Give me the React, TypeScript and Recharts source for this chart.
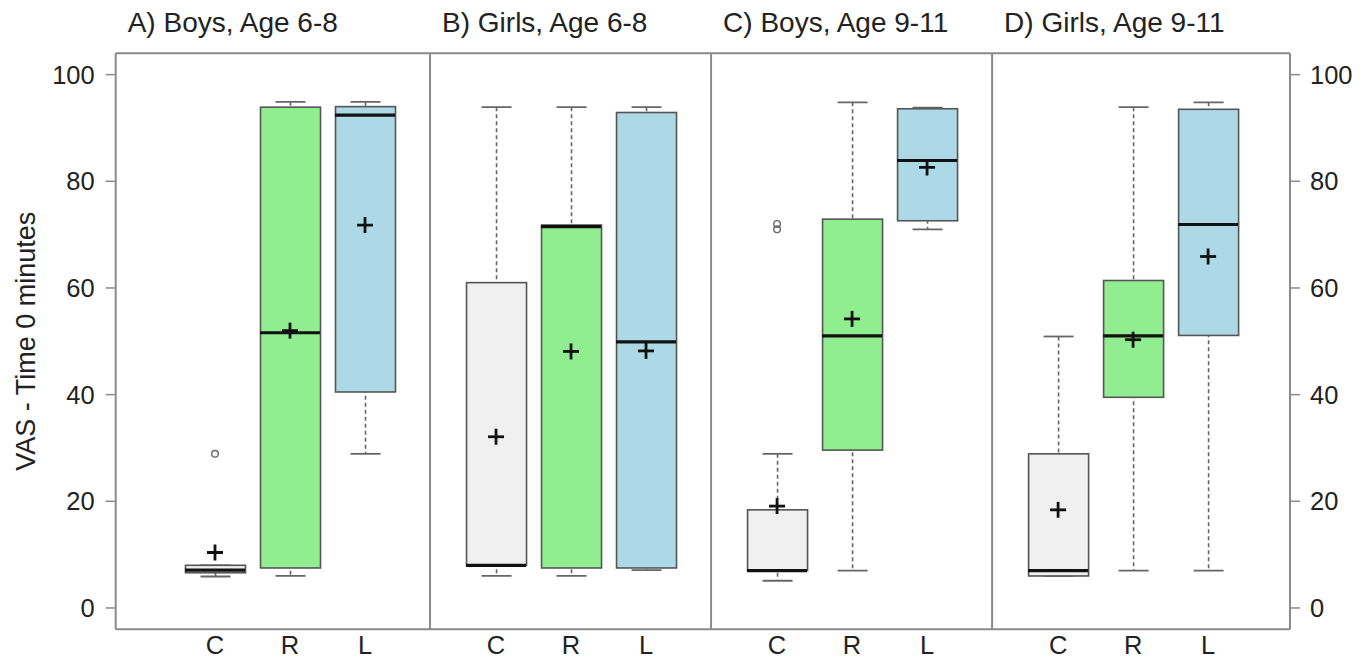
import React from "react";
import { ComposedChart, XAxis, YAxis, Bar, Cell, Scatter, ReferenceLine } from "recharts";

// ---------- data ----------
const panelTitles = ["A) Boys, Age 6-8", "B) Girls, Age 6-8", "C) Boys, Age 9-11", "D) Girls, Age 9-11"];
const groups = ["C", "R", "L"];
const groupFills = ["#f0f0f0", "#90ee90", "#add8e6"];

// order: panel A (C,R,L), B (C,R,L), C (C,R,L), D (C,R,L)
const whiskerLow = [5.9, 6.0, 28.9, 6.0, 6.0, 7.1, 5.1, 7.0, 71.0, 6.0, 7.0, 7.0];
const lowerQuartile = [6.6, 7.5, 40.5, 8.0, 7.5, 7.5, 7.0, 29.6, 72.6, 6.0, 39.5, 51.1];
const medianValue = [7.1, 51.6, 92.4, 8.0, 71.5, 49.9, 7.0, 51.0, 83.9, 7.0, 51.0, 71.9];
const upperQuartile = [8.0, 93.9, 94.0, 61.0, 71.8, 92.9, 18.4, 72.9, 93.6, 28.9, 61.4, 93.5];
const whiskerHigh = [8.0, 94.9, 94.9, 93.9, 93.9, 93.9, 28.9, 94.8, 93.8, 50.9, 93.9, 94.8];
const meanValue = [10.4, 52.0, 71.8, 32.1, 48.1, 48.2, 19.1, 54.2, 82.6, 18.4, 50.3, 65.9];
const outlierBox = [0, 6, 6];
const outlierValue = [28.9, 71.0, 72.0];
const yTicks = [0, 20, 40, 60, 80, 100];

// ---------- layout ----------
const PANEL_STEP = 3.747;
const X_MIN = -0.324;
const X_MAX = 15.333;
const Y_DOMAIN: [number, number] = [-4, 104];
const BOX_W = 60;
const boxX = (i: number) => Math.floor(i / 3) * PANEL_STEP + (i % 3) + 1;
const dividerX = (p: number) => p * PANEL_STEP + 3.867;
const panelLeft = (p: number) => (p === 0 ? X_MIN : dividerX(p - 1));

const rows = whiskerLow.map((_, i) => ({
  x: boxX(i),
  group: groups[i % 3],
  fill: groupFills[i % 3],
  whisker: [whiskerLow[i], whiskerHigh[i]],
  box: [lowerQuartile[i], upperQuartile[i]],
  median: medianValue[i],
  mean: meanValue[i],
}));
const outlierRows = outlierBox.map((b, k) => ({ x: boxX(b), value: outlierValue[k] }));
const xTicks = rows.map((r) => r.x);

const FONT = "'Liberation Sans', Arial, Helvetica, sans-serif";
const FRAME = "#8a8a8a";
const LINE = "#666666";

const WhiskerShape = (props: any) => {
  const { x, y, width, height } = props;
  const cx = x + width / 2;
  const top = Math.min(y, y + height);
  const bot = Math.max(y, y + height);
  return (
    <g>
      <line x1={cx} x2={cx} y1={top} y2={bot} stroke={LINE} strokeWidth={1.6} strokeDasharray="4 3" />
      <line x1={cx - 15} x2={cx + 15} y1={top} y2={top} stroke={LINE} strokeWidth={1.8} />
      <line x1={cx - 15} x2={cx + 15} y1={bot} y2={bot} stroke={LINE} strokeWidth={1.8} />
    </g>
  );
};

const BoxShape = (props: any) => {
  const { x, y, width, height, fill } = props;
  const top = Math.min(y, y + height);
  const h = Math.abs(height);
  return <rect x={x} y={top} width={width} height={h} fill={fill} stroke="#555555" strokeWidth={1.6} />;
};

const MedianShape = (props: any) => {
  const { cx, cy } = props;
  return <line x1={cx - BOX_W / 2} x2={cx + BOX_W / 2} y1={cy} y2={cy} stroke="#111111" strokeWidth={3.2} />;
};

const MeanShape = (props: any) => {
  const { cx, cy } = props;
  return (
    <g stroke="#111111" strokeWidth={2.8}>
      <line x1={cx - 8} x2={cx + 8} y1={cy} y2={cy} />
      <line x1={cx} x2={cx} y1={cy - 8} y2={cy + 8} />
    </g>
  );
};

const OutlierShape = (props: any) => {
  const { cx, cy } = props;
  return <circle cx={cx} cy={cy} r={3.3} fill="none" stroke={LINE} strokeWidth={1.4} />;
};

const titleLabel = (text: string) => (props: any) => {
  const vb = props.viewBox || {};
  return (
    <text x={vb.x + 12} y={vb.y - 21} fontSize={28} fill="#222222" fontFamily={FONT}>
      {text}
    </text>
  );
};

const yLabel = (props: any) => {
  const vb = props.viewBox || {};
  const cx = 35;
  const cy = vb.y + vb.height / 2;
  return (
    <text
      x={cx}
      y={cy}
      transform={`rotate(-90, ${cx}, ${cy})`}
      textAnchor="middle"
      fontSize={27}
      fill="#222222"
      fontFamily={FONT}
    >
      VAS - Time 0 minutes
    </text>
  );
};

const tickFmt = (v: number) => {
  const i = xTicks.findIndex((t) => Math.abs(t - v) < 1e-6);
  return i >= 0 ? groups[i % 3] : "";
};

export default function App() {
  return (
    <div style={{ position: "absolute", left: 0, top: 0, background: "#ffffff" }}>
      <ComposedChart
        width={1370}
        height={659}
        data={rows}
        barGap={-BOX_W}
        margin={{ top: 53.3, right: 0, bottom: 0, left: 0 }}
      >
        <XAxis
          xAxisId="main"
          dataKey="x"
          type="number"
          domain={[X_MIN, X_MAX]}
          allowDataOverflow
          ticks={xTicks}
          interval={0}
          tickFormatter={tickFmt}
          tickLine={false}
          tickSize={0}
          tickMargin={7}
          height={29.7}
          axisLine={{ stroke: FRAME, strokeWidth: 2 }}
          tick={{ fontSize: 25.5, fill: "#222222", fontFamily: FONT }}
        />
        <YAxis
          yAxisId="left"
          type="number"
          domain={Y_DOMAIN}
          allowDataOverflow
          ticks={yTicks}
          interval={0}
          width={115.7}
          tickSize={10}
          tickMargin={11}
          axisLine={{ stroke: FRAME, strokeWidth: 2 }}
          tickLine={{ stroke: FRAME, strokeWidth: 1.5 }}
          tick={{ fontSize: 25.5, fill: "#222222", fontFamily: FONT }}
          label={yLabel}
        />
        <YAxis
          yAxisId="right"
          orientation="right"
          type="number"
          domain={Y_DOMAIN}
          allowDataOverflow
          ticks={yTicks}
          interval={0}
          width={80}
          tickSize={10}
          tickMargin={10}
          axisLine={{ stroke: FRAME, strokeWidth: 2 }}
          tickLine={{ stroke: FRAME, strokeWidth: 1.5 }}
          tick={{ fontSize: 25.5, fill: "#222222", fontFamily: FONT }}
        />

        <ReferenceLine xAxisId="main" yAxisId="left" y={104} stroke={FRAME} strokeWidth={2} />
        {[0, 1, 2].map((p) => (
          <ReferenceLine key={`d${p}`} xAxisId="main" yAxisId="left" x={dividerX(p)} stroke={FRAME} strokeWidth={2} />
        ))}
        {panelTitles.map((t, p) => (
          <ReferenceLine
            key={`t${p}`}
            xAxisId="main"
            yAxisId="left"
            x={panelLeft(p)}
            stroke="none"
            label={titleLabel(t)}
          />
        ))}

        <Bar
          xAxisId="main"
          yAxisId="left"
          dataKey="whisker"
          barSize={BOX_W}
          shape={<WhiskerShape />}
          isAnimationActive={false}
        />
        <Bar
          xAxisId="main"
          yAxisId="left"
          dataKey="box"
          barSize={BOX_W}
          shape={<BoxShape />}
          isAnimationActive={false}
        >
          {rows.map((r, i) => (
            <Cell key={i} fill={r.fill} />
          ))}
        </Bar>
        <Scatter
          xAxisId="main"
          yAxisId="left"
          data={rows}
          dataKey="median"
          shape={<MedianShape />}
          isAnimationActive={false}
        />
        <Scatter
          xAxisId="main"
          yAxisId="left"
          data={rows}
          dataKey="mean"
          shape={<MeanShape />}
          isAnimationActive={false}
        />
        <Scatter
          xAxisId="main"
          yAxisId="left"
          data={outlierRows}
          dataKey="value"
          shape={<OutlierShape />}
          isAnimationActive={false}
        />
      </ComposedChart>
    </div>
  );
}
